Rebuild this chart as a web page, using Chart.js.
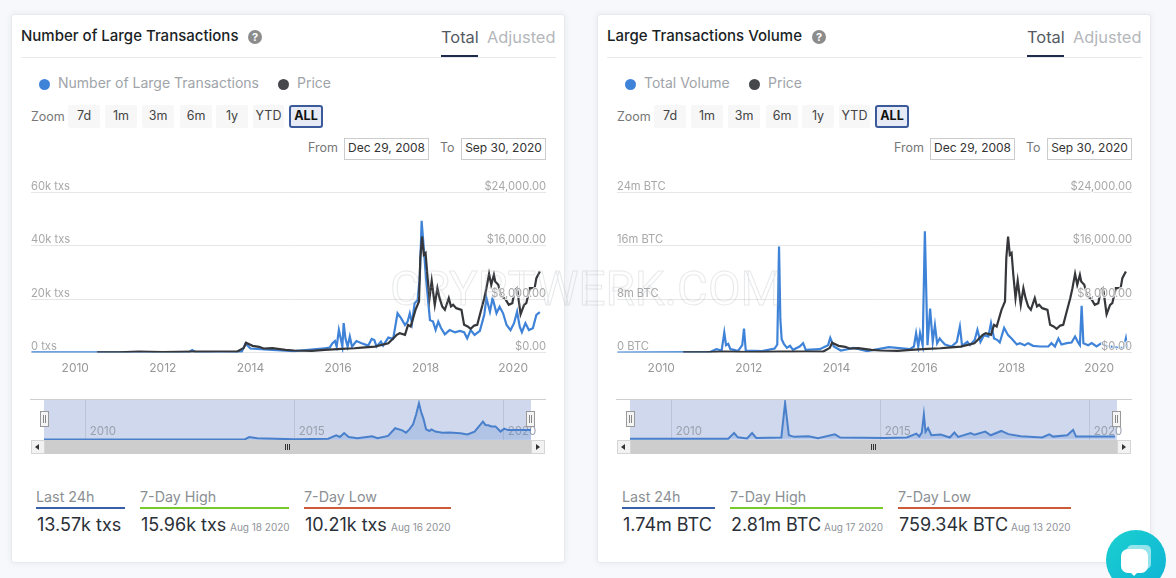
<!DOCTYPE html>
<html><head><meta charset="utf-8">
<script src="https://cdn.jsdelivr.net/npm/chart.js@4"></script>
<style>
html,body{margin:0;padding:0;width:1176px;height:578px;overflow:hidden;background:#f7f8fb;font-family:Inter,"Noto Sans",sans-serif;}
.abs{position:absolute;white-space:nowrap;}
canvas{position:absolute;}
</style></head><body>
<script>
// ---------- data ----------
const xTickYears=[2010,2012,2014,2016,2018,2020];
const navTickYears=[2010,2015,2020];
const txTickLabels=['0 txs','20k txs','40k txs','60k txs'];
const volTickLabels=['0 BTC','8m BTC','16m BTC','24m BTC'];
const priceTickLabels=['$0.00','$8,000.00','$16,000.00','$24,000.00'];

const priceYears=[2010.5,2011,2011.45,2012,2012.7,2013,2013.3,2013.7,2013.85,2013.9,2014.05,2014.2,2014.3,2014.5,2014.8,2015,2015.4,2015.7,2016.08,2016.38,2016.54,2016.84,2017.15,2017.34,2017.41,2017.53,2017.6,2017.66,2017.77,2017.85,2017.88,2017.92,2017.96,2018,2018.04,2018.09,2018.14,2018.21,2018.27,2018.32,2018.38,2018.44,2018.53,2018.58,2018.63,2018.7,2018.82,2018.88,2018.96,2019.03,2019.11,2019.18,2019.24,2019.34,2019.39,2019.45,2019.5,2019.56,2019.59,2019.66,2019.73,2019.81,2019.9,2019.98,2020.04,2020.09,2020.17,2020.25,2020.3,2020.38,2020.49,2020.53,2020.61];
const priceValues=[5,30,150,60,120,130,150,140,700,1450,1000,850,600,650,400,300,250,390,540,640,740,890,1390,2640,2890,2640,4140,3900,6400,7650,14170,17400,14660,14920,11660,8150,10760,7150,9650,8150,6900,6400,8150,6900,7150,6650,6400,4150,3900,3540,4040,4150,5650,8150,9650,11800,10150,11650,10650,10150,8400,8150,7150,7400,9400,9650,5750,7150,7400,9650,9650,11150,12160];

const txYears=[2009,2012.6,2012.67,2012.75,2013.8,2013.89,2014,2014.5,2015,2015.7,2015.81,2015.87,2015.93,2015.97,2016.02,2016.07,2016.1,2016.13,2016.17,2016.22,2016.27,2016.32,2016.42,2016.54,2016.69,2016.77,2016.83,2016.88,2016.98,2017.03,2017.15,2017.26,2017.36,2017.44,2017.53,2017.59,2017.64,2017.69,2017.75,2017.82,2017.87,2017.91,2017.96,2018.01,2018.06,2018.1,2018.17,2018.23,2018.29,2018.35,2018.44,2018.55,2018.67,2018.78,2018.88,2018.95,2019.03,2019.12,2019.24,2019.34,2019.39,2019.47,2019.53,2019.62,2019.69,2019.77,2019.85,2019.94,2020.02,2020.09,2020.15,2020.2,2020.28,2020.36,2020.45,2020.53,2020.61];
const txValues=[0.1,0.1,0.9,0.1,0.2,3.4,1.5,1,0.5,1.6,1.8,3.4,4.3,2.2,8.5,4.7,2.2,11,5.3,2.2,6,2.2,4.3,3.5,2.6,5.1,4.7,2.2,4.1,2.6,5.6,5.1,14.7,12.9,10.3,11.6,14.7,11,18.5,19.7,29.1,49.4,39,27.9,19.1,12.2,11.6,8.5,11.6,9.3,6.8,8.4,7.6,8.1,7.6,5.3,8.4,6.6,8.1,14.1,20.4,15.3,20.4,14.7,17.2,14.7,10.3,8.4,11,15.3,9.7,7.6,11,8.4,9.1,14.1,15.1];

const volYears=[2009,2011.1,2011.26,2011.38,2011.44,2011.48,2011.53,2011.58,2011.66,2011.75,2011.85,2011.89,2011.93,2012.3,2012.59,2012.65,2012.69,2012.72,2012.75,2012.8,2012.87,2012.94,2013.01,2013.16,2013.24,2013.3,2013.62,2013.81,2013.86,2013.94,2014.1,2014.4,2014.7,2015.2,2015.68,2015.77,2015.82,2015.87,2015.91,2015.97,2016.02,2016.08,2016.14,2016.2,2016.25,2016.3,2016.36,2016.42,2016.48,2016.63,2016.75,2016.82,2016.87,2016.99,2017.05,2017.16,2017.22,2017.29,2017.37,2017.47,2017.53,2017.6,2017.67,2017.73,2017.83,2017.92,2018,2018.12,2018.19,2018.3,2018.38,2018.49,2018.65,2018.84,2018.91,2018.99,2019.07,2019.14,2019.26,2019.37,2019.45,2019.52,2019.56,2019.6,2019.64,2019.75,2019.83,2019.94,2020.05,2020.17,2020.32,2020.47,2020.56,2020.61,2020.64];
const volValues=[0,0.05,0.5,0.3,3,1.1,1.3,0.5,0.4,0.2,1.1,3.6,0.3,0.2,0.6,1.2,15.9,5,2,1.3,0.7,1,0.4,0.9,1.4,0.4,0.5,1.1,2.2,0.9,0.3,0.7,0.2,0.8,0.5,0.9,2.9,0.9,2.9,1.1,18.2,1.1,6.6,1.6,4.1,1.4,2.1,1.6,1.2,0.9,1.6,3.9,1,1.6,1.1,1.9,3.4,1.6,2.6,2.4,4.4,2.1,1.9,1.5,3.7,2.6,2.1,1.2,1.4,1.1,1.4,1,0.9,0.9,1.4,0.9,2.1,1.2,1.4,1.5,2.4,1.5,1.1,7,1.4,1.1,1.4,0.9,1.4,1,0.8,0.7,0.7,2.1,0.7];

const navTxYears=[2009,2013.8,2013.91,2014.1,2015,2015.8,2015.99,2016.08,2016.18,2016.29,2016.5,2016.85,2016.98,2017.23,2017.4,2017.57,2017.66,2017.74,2017.83,2017.9,2017.97,2018.02,2018.08,2018.14,2018.22,2018.27,2018.36,2018.53,2018.7,2018.96,2019.13,2019.3,2019.5,2019.56,2019.63,2019.7,2019.8,2019.92,2020.01,2020.1,2020.3,2020.65];
const navTxValues=[0.1,0.3,3.6,1.8,0.5,1.3,6,3.6,9,3.6,1.8,4.5,1.8,5,15.5,12.7,9.5,14,21,34,49.5,38,28,14,11.8,14,11,9.5,9.8,8.6,7,11,24.5,20,19.5,18,18,11,15,13,13,13];
const navVolYears=[2009,2011.35,2011.49,2011.58,2011.8,2011.92,2012.02,2012.62,2012.71,2012.8,2012.93,2013.27,2013.5,2013.9,2014.03,2015.1,2015.62,2015.85,2015.92,2015.98,2016.03,2016.07,2016.13,2016.21,2016.43,2016.65,2016.76,2016.85,2017.15,2017.24,2017.5,2017.63,2017.88,2018.05,2018.35,2018.86,2019.03,2019.12,2019.46,2019.6,2019.67,2020,2020.6];
const navVolValues=[0,0.1,2.6,0.7,0.2,2.6,0.4,0.6,15.9,1.6,0.9,1.2,0.3,2,0.6,0.4,0.6,2.3,1.1,2.8,10.8,3.1,4.8,1.6,1.9,0.6,2.8,0.9,2.6,1.8,3.2,1.6,3.5,2.1,1.2,0.6,2,1,1.6,4,1,1,1];

// ---------- helpers ----------
function el(css,text,parent){const d=document.createElement('div');d.className='abs';d.style.cssText+=css;if(text!==undefined)d.textContent=text;(parent||document.body).appendChild(d);return d;}
function pts(xs,ys){return xs.map((x,i)=>({x:x,y:ys[i]}));}
const BLUE='#3f83d8',DARK='#35373b',AXIS='#a8a8a8';

function mainChart(off,ys,yv,yMax,yLabels){
  const c=document.createElement('canvas');c.width=515;c.height=210;
  c.style.cssText=`left:${31+off}px;top:170px;width:515px;height:210px;z-index:2`;
  document.body.appendChild(c);
  new Chart(c,{type:'line',data:{datasets:[
    {data:pts(ys,yv),yAxisID:'y',borderColor:BLUE,borderWidth:2.2,pointRadius:0,tension:0,order:2},
    {data:pts(priceYears,priceValues),yAxisID:'y2',borderColor:DARK,borderWidth:2.2,pointRadius:0,tension:0,order:1}]},
   options:{responsive:false,animation:false,events:[],layout:{padding:{top:22.5}},
    plugins:{legend:{display:false},tooltip:{enabled:false}},
    scales:{
     x:{type:'linear',min:2008.99,max:2020.75,grid:{display:false,drawTicks:false},border:{display:false},
        afterBuildTicks:s=>{s.ticks=xTickYears.map(v=>({value:v}));},
        afterFit:s=>{s.height=27.5;s.paddingLeft=0;s.paddingRight=0;},
        ticks:{color:'#999',font:{family:'Inter',size:12},padding:8.5,maxRotation:0,autoSkip:false,callback:v=>String(v)}},
     y:{position:'left',min:0,max:yMax,grid:{color:'#e6e6e6',drawTicks:false},border:{display:false},
        ticks:{mirror:true,padding:0,labelOffset:-6,stepSize:yMax/3,color:AXIS,font:{family:'Inter',size:11.2},z:1,
               callback:(v)=>yLabels[Math.round(v/(yMax/3))]}},
     y2:{position:'right',min:0,max:24000,grid:{display:false,drawTicks:false},border:{display:false},
        ticks:{mirror:true,padding:0,labelOffset:-6,stepSize:8000,color:AXIS,font:{family:'Inter',size:11.2},z:1,
               textStrokeColor:'rgba(255,255,255,0.8)',textStrokeWidth:2,
               callback:(v)=>priceTickLabels[Math.round(v/8000)]}}
    }}});
}
function navChart(off,ys,yv,yMax){
  const c=document.createElement('canvas');c.width=516;c.height=40;
  c.style.cssText=`left:${30+off}px;top:400px;width:516px;height:40px;z-index:2`;
  document.body.appendChild(c);
  new Chart(c,{type:'line',data:{datasets:[
    {data:pts(ys,yv),borderColor:'#4a80cb',borderWidth:2,pointRadius:0,tension:0,fill:'origin',backgroundColor:'rgba(74,128,203,0.22)'}]},
   options:{responsive:false,animation:false,events:[],layout:{padding:{left:14,right:15}},
    plugins:{legend:{display:false},tooltip:{enabled:false}},
    scales:{
     x:{type:'linear',min:2009,max:2020.65,grid:{color:'#bcc4d6',drawTicks:false},border:{display:false},
        afterBuildTicks:s=>{s.ticks=navTickYears.map(v=>({value:v}));},
        afterFit:s=>{s.height=0;s.paddingLeft=0;s.paddingRight=0;},
        ticks:{mirror:true,align:'start',labelOffset:4,padding:2,color:'#9aa0ad',font:{family:'Inter',size:11.5},maxRotation:0,autoSkip:false,callback:v=>String(v)}},
     y:{display:false,min:-0.5,max:yMax}
    }}});
}

function card(off,o){
  el(`left:${11+off}px;top:14px;width:554px;height:549px;background:#fff;border:1px solid #e7e9ee;box-sizing:border-box;border-radius:3px;box-shadow:0 0 6px rgba(40,50,80,.08)`);
  el(`left:${21+off}px;top:26px;font-size:15px;font-weight:500;color:#1b1f26;line-height:20px`,o.title);
  el(`left:${o.qx+off-7}px;top:30px;width:14px;height:14px;border-radius:50%;background:#8c8c8c;color:#fff;font-size:11px;font-weight:700;text-align:center;line-height:14px`,'?');
  el(`left:${441+off}px;top:26px;font-size:16.4px;color:#555a62;line-height:22px`,'Total');
  el(`left:${487+off}px;top:26px;font-size:16.4px;color:#b4b7bb;line-height:22px`,'Adjusted');
  el(`left:${21+off}px;top:57px;width:535px;height:1px;background:#e8e9ec`);
  el(`left:${441+off}px;top:55px;width:37px;height:2px;background:#1f2b4d`);
  // legend
  el(`left:${39+off}px;top:79px;width:11px;height:11px;border-radius:50%;background:${BLUE}`);
  el(`left:${58+off}px;top:73px;font-size:14px;color:#a0a4a9;line-height:20px`,o.legend);
  el(`left:${o.px+off}px;top:79px;width:11px;height:11px;border-radius:50%;background:#45474b`);
  el(`left:${o.px+19+off}px;top:73px;font-size:14px;color:#a0a4a9;line-height:20px`,'Price');
  // zoom row
  el(`left:${31+off}px;top:108px;font-size:12.5px;color:#777;line-height:18px`,'Zoom');
  const btn=[['7d',68,32],['1m',105,32],['3m',142,32],['6m',180,32],['1y',216,32],['YTD',253,31]];
  btn.forEach(b=>el(`left:${b[1]+off}px;top:105px;width:${b[2]}px;height:23px;background:#f7f7f7;border-radius:2px;font-size:12.5px;color:#444;text-align:center;line-height:21px`,b[0]));
  el(`left:${289+off}px;top:105px;width:34px;height:23px;box-sizing:border-box;background:#e6ebf5;border:2px solid #3a5a9c;border-radius:3px;font-size:12.5px;font-weight:700;color:#111;text-align:center;line-height:17px`,'ALL');
  // range inputs
  el(`left:${308+off}px;top:139px;font-size:12.5px;color:#777;line-height:18px`,'From');
  el(`left:${344+off}px;top:138px;width:85px;height:22px;box-sizing:border-box;border:1px solid #ccc;font-size:12px;color:#333;text-align:center;line-height:18px`,'Dec 29, 2008');
  el(`left:${440+off}px;top:139px;font-size:12.5px;color:#777;line-height:18px`,'To');
  el(`left:${461+off}px;top:138px;width:85px;height:22px;box-sizing:border-box;border:1px solid #ccc;font-size:12px;color:#333;text-align:center;line-height:18px`,'Sep 30, 2020');
  // navigator furniture
  el(`left:${30+off}px;top:399px;width:516px;height:1px;background:#cfcfcf`);
  el(`left:${44+off}px;top:400px;width:487px;height:40px;background:#cfd8ed`);
  el(`left:${44+off}px;top:440px;width:487px;height:14px;background:#cdcdcd`);
  [31,531].forEach((x,i)=>{
    el(`left:${x+off}px;top:440px;width:14px;height:14px;box-sizing:border-box;background:#f2f2f2;border:1px solid #d5d5d5`);
    el(`left:${x+off+(i?5:4)}px;top:444px;width:0;height:0;border-top:3px solid transparent;border-bottom:3px solid transparent;${i?'border-left:4px solid #333':'border-right:4px solid #333'}`);
  });
  [0,3,6].forEach(d=>el(`left:${285+off+d/1.5}px;top:444px;width:1px;height:6px;background:#333`));
  [44,530].forEach(x=>{
    const h=el(`left:${x-4+off}px;top:411px;width:9px;height:16px;box-sizing:border-box;background:#f4f4f4;border:1px solid #999;z-index:3`);
    el(`left:2px;top:3px;width:1px;height:8px;background:#888`,undefined,h);
    el(`left:4px;top:3px;width:1px;height:8px;background:#888`,undefined,h);
  });
  // stats
  o.stats.forEach(s=>{
    el(`left:${s.x+off}px;top:488px;font-size:14.3px;color:#8b8f94;line-height:18px`,s.label);
    el(`left:${s.x+off}px;top:507px;width:${s.w}px;height:2px;background:${s.c}`);
    el(`left:${s.x+1+off}px;top:513px;font-size:18px;color:#2b3038;line-height:24px`,s.val);
    if(s.date) el(`left:${s.dx+off}px;top:520px;font-size:10px;color:#8f9399;line-height:14px`,s.date);
  });
}

// ---------- page ----------
card(0,{title:'Number of Large Transactions',qx:255,legend:'Number of Large Transactions',px:278,stats:[
 {x:36,w:89,c:'#3a5ea8',label:'Last 24h',val:'13.57k txs'},
 {x:140,w:149,c:'#78c92c',label:'7-Day High',val:'15.96k txs',date:'Aug 18 2020',dx:230},
 {x:304,w:147,c:'#cc5b36',label:'7-Day Low',val:'10.21k txs',date:'Aug 16 2020',dx:391}]});
card(586,{title:'Large Transactions Volume',qx:233,legend:'Total Volume',px:163,stats:[
 {x:36,w:93,c:'#3a5ea8',label:'Last 24h',val:'1.74m BTC'},
 {x:144,w:153,c:'#78c92c',label:'7-Day High',val:'2.81m BTC',date:'Aug 17 2020',dx:238},
 {x:312,w:173,c:'#cc5b36',label:'7-Day Low',val:'759.34k BTC',date:'Aug 13 2020',dx:425}]});

mainChart(0,txYears,txValues,60,txTickLabels);
mainChart(586,volYears,volValues,24,volTickLabels);
navChart(0,navTxYears,navTxValues,54);
navChart(586,navVolYears,navVolValues,17.2);

// watermark
el(`left:390px;top:259px;font-family:Roboto,Inter,sans-serif;font-size:47.5px;line-height:60px;letter-spacing:0;color:transparent;-webkit-text-stroke:1px rgba(170,172,180,.28);z-index:5`,'CRYPTWERK.COM');
// chat bubble
el(`left:1106px;top:530px;width:60px;height:60px;border-radius:50%;background:linear-gradient(135deg,#1ad0cf,#0fb3d6);z-index:6`);
el(`left:1127px;top:545px;width:24px;height:24px;border-radius:5px;background:rgba(255,255,255,.55);z-index:6`);
el(`left:1121px;top:549px;width:27px;height:24px;border-radius:7px;background:#fff;z-index:6`);
el(`left:1130px;top:572px;width:0;height:0;border-left:4px solid transparent;border-right:4px solid transparent;border-top:4px solid #fff;z-index:6`);
</script>
</body></html>
